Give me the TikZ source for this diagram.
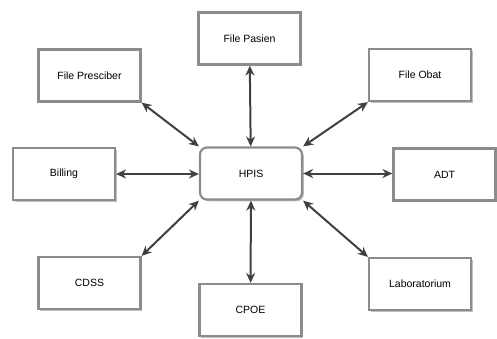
\documentclass[tikz,border=0pt]{standalone}
\usepackage{fontspec}
\setmainfont{Liberation Sans}
\usetikzlibrary{arrows.meta,shadows}
\tikzset{
  box/.style={draw=gray!90,line width=2.2pt,fill=white,minimum width=102pt,minimum height=52pt,
    inner sep=0pt,font=\fontsize{10.5}{12}\selectfont,
    drop shadow={shadow xshift=1.8pt,shadow yshift=-1.8pt,fill=gray!50,opacity=1}},
  hub/.style={box,rounded corners=7pt},
  link/.style={draw=black!75,line width=2pt,{Stealth[length=10pt,width=9pt]}-{Stealth[length=10pt,width=9pt]}}
}
\begin{document}
\begin{tikzpicture}[x=1pt,y=-1pt]
\useasboundingbox(0,0)rectangle(497,338);
%nodes
\node[hub](hpis)at(251,173.5){HPIS};
\node[box](pasien)at(249.5,38.5){File Pasien};
\node[box](presc)at(89.5,75.5){File Presciber};
\node[box](obat)at(420,75){File Obat};
\node[box](billing)at(64,174){Billing};
\node[box](adt)at(444.5,174.5){ADT};
\node[box](cdss)at(89.5,283){CDSS};
\node[box](lab)at(420,284){Laboratorium};
\node[box](cpoe)at(250.5,310){CPOE};
%links
\draw[link](pasien)--(hpis);
\draw[link](hpis)--(cpoe);
\draw[link](billing)--(billing-|hpis.west);
\draw[link](hpis.east)--(hpis-|adt.west);
\draw[link](presc.south east)--(hpis.north west);
\draw[link](cdss.north east)--(hpis.south west);
\draw[link](obat.south west)--(hpis.north east);
\draw[link](lab.north west)--(hpis.south east);
\end{tikzpicture}
\end{document}
